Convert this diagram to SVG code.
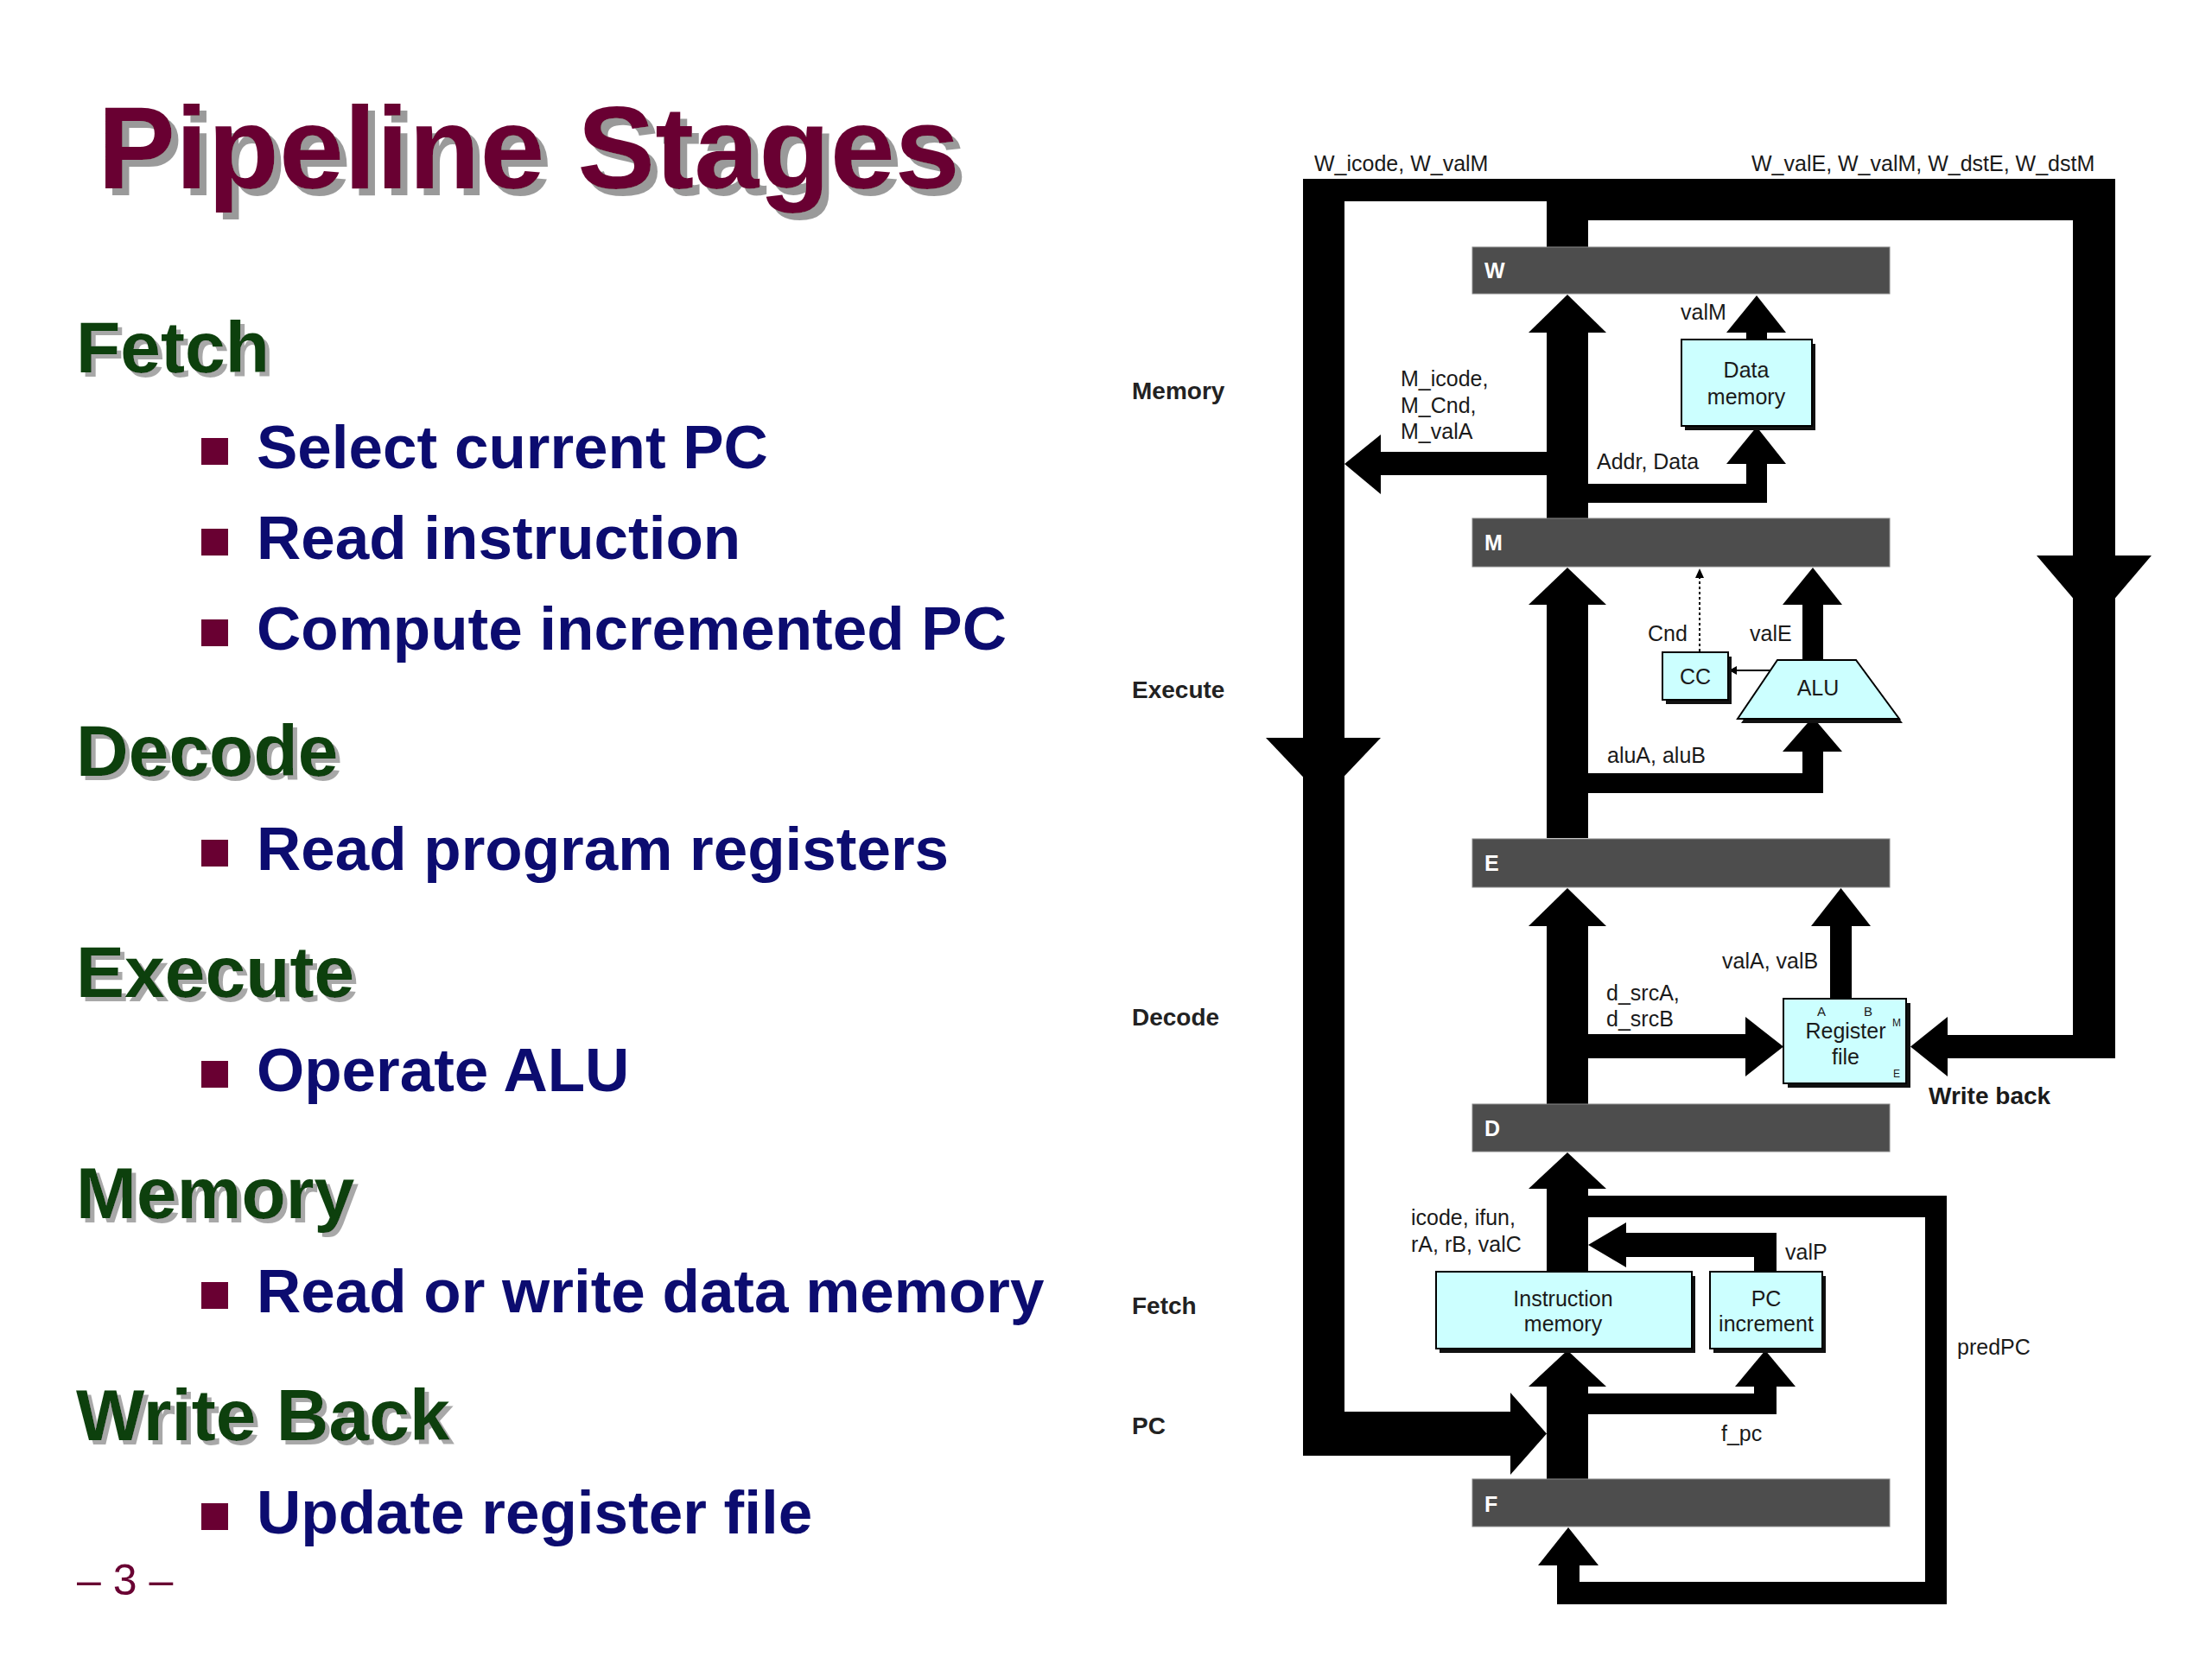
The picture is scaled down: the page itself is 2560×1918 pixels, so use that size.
<svg xmlns="http://www.w3.org/2000/svg" width="2560" height="1918" viewBox="0 0 2560 1918">
<defs>
  <filter id="shTitle" x="-5%" y="-20%" width="115%" height="150%">
    <feOffset in="SourceAlpha" dx="8" dy="8" result="o"/>
    <feFlood flood-color="#9a9a9a"/>
    <feComposite in2="o" operator="in" result="s"/>
    <feMerge><feMergeNode in="s"/><feMergeNode in="SourceGraphic"/></feMerge>
  </filter>
  <filter id="shHead" x="-5%" y="-20%" width="115%" height="150%">
    <feOffset in="SourceAlpha" dx="5" dy="5" result="o"/>
    <feFlood flood-color="#a8a8a8"/>
    <feComposite in2="o" operator="in" result="s"/>
    <feMerge><feMergeNode in="s"/><feMergeNode in="SourceGraphic"/></feMerge>
  </filter>
</defs>
<style>
.title{font-family:"Liberation Sans",Arial,sans-serif;font-weight:bold;font-size:135px;fill:#690032}
.h{font-family:"Liberation Sans",Arial,sans-serif;font-weight:bold;font-size:84px;fill:#0e3f0e}
.b{font-family:"Liberation Sans",Arial,sans-serif;font-weight:bold;font-size:71px;fill:#0c0c70}
.pg{font-family:"Liberation Sans",Arial,sans-serif;font-size:50px;fill:#690032}
.lbl{font-family:"Liberation Sans",Arial,sans-serif;font-size:25px;fill:#1a1a1a}
.mid{text-anchor:middle}
.tiny{font-family:"Liberation Sans",Arial,sans-serif;font-size:15px;fill:#1a1a1a}
.tiny2{font-family:"Liberation Sans",Arial,sans-serif;font-size:12px;fill:#1a1a1a}
.stage{font-family:"Liberation Sans",Arial,sans-serif;font-weight:bold;font-size:28px;fill:#222}
.wb{font-family:"Liberation Sans",Arial,sans-serif;font-weight:bold;font-size:28px;fill:#1a1a1a}
.reg{fill:#4d4d4d;stroke:#8a8a8a;stroke-width:1}
.regt{font-family:"Liberation Sans",Arial,sans-serif;font-weight:bold;font-size:25px;fill:#fff}
.box{fill:#ccffff;stroke:#000;stroke-width:2}
.shd{fill:#111}
.sq{fill:#690032}
</style>
<rect width="2560" height="1918" fill="#fff"/>

<g id="slide-text">
  <g id="title">
    <text class="title" x="113" y="218" filter="url(#shTitle)">Pipeline Stages</text>
  </g>
  <g id="fetch-section">
    <text class="h" x="88" y="431" filter="url(#shHead)">Fetch</text>
    <rect class="sq" x="233" y="507" width="31" height="31"/>
    <text class="b" x="297" y="542">Select current PC</text>
    <rect class="sq" x="233" y="612" width="31" height="31"/>
    <text class="b" x="297" y="647">Read instruction</text>
    <rect class="sq" x="233" y="717" width="31" height="31"/>
    <text class="b" x="297" y="752">Compute incremented PC</text>
  </g>
  <g id="decode-section">
    <text class="h" x="88" y="898" filter="url(#shHead)">Decode</text>
    <rect class="sq" x="233" y="972" width="31" height="31"/>
    <text class="b" x="297" y="1007">Read program registers</text>
  </g>
  <g id="execute-section">
    <text class="h" x="88" y="1154" filter="url(#shHead)">Execute</text>
    <rect class="sq" x="233" y="1228" width="31" height="31"/>
    <text class="b" x="297" y="1263">Operate ALU</text>
  </g>
  <g id="memory-section">
    <text class="h" x="88" y="1410" filter="url(#shHead)">Memory</text>
    <rect class="sq" x="233" y="1484" width="31" height="31"/>
    <text class="b" x="297" y="1519">Read or write data memory</text>
  </g>
  <g id="writeback-section">
    <text class="h" x="88" y="1667" filter="url(#shHead)">Write Back</text>
    <rect class="sq" x="233" y="1740" width="31" height="31"/>
    <text class="b" x="297" y="1775">Update register file</text>
  </g>
  <text id="page-number" class="pg" x="89" y="1846">– 3 –</text>
</g>

<g id="stage-labels">
  <text class="stage" x="1310" y="462">Memory</text>
  <text class="stage" x="1310" y="808">Execute</text>
  <text class="stage" x="1310" y="1187">Decode</text>
  <text class="stage" x="1310" y="1521">Fetch</text>
  <text class="stage" x="1310" y="1660">PC</text>
</g>

<g id="connectors" fill="#000">
  <!-- write-back feedback buses -->
  <rect x="1508" y="207" width="940" height="26"/>
  <rect x="1790" y="207" width="658" height="48"/>
  <rect x="1790" y="207" width="48" height="79"/>
  <rect x="1508" y="207" width="48" height="1478"/>
  <rect x="2399" y="207" width="49" height="1018"/>
  <rect x="2252" y="1198" width="196" height="27"/>
  <polygon points="2254,1177 2211,1211.5 2254,1246"/>
  <rect x="1508" y="1634" width="242" height="51"/>
  <polygon points="1748,1612 1790,1659.5 1748,1707"/>
  <polygon points="1465,854 1598,854 1531.5,924"/>
  <polygon points="2357,643 2490,643 2423.5,721"/>
  <!-- main pipeline stem -->
  <rect x="1790" y="1605" width="48" height="107"/>
  <polygon points="1769,1605 1814,1563 1859,1605"/>
  <rect x="1790" y="1376" width="48" height="96"/>
  <polygon points="1769,1376 1814,1334 1859,1376"/>
  <rect x="1790" y="1072" width="48" height="206"/>
  <polygon points="1769,1072 1814,1028 1859,1072"/>
  <rect x="1790" y="700" width="48" height="270"/>
  <polygon points="1769,700 1814,657 1859,700"/>
  <rect x="1790" y="385" width="48" height="215"/>
  <polygon points="1769,385 1814,341 1859,385"/>
  <!-- f_pc -->
  <rect x="1838" y="1613" width="218" height="24"/>
  <rect x="2030" y="1605" width="26" height="32"/>
  <polygon points="2008,1605 2043,1563 2078,1605"/>
  <!-- valP -->
  <rect x="2030" y="1427" width="26" height="45"/>
  <rect x="1880" y="1427" width="176" height="28"/>
  <polygon points="1882,1415 1838,1441 1882,1467"/>
  <!-- predPC -->
  <rect x="1838" y="1384" width="415" height="25"/>
  <rect x="2228" y="1384" width="25" height="473"/>
  <rect x="1802" y="1831" width="451" height="26"/>
  <rect x="1802" y="1810" width="26" height="47"/>
  <polygon points="1780,1812 1815,1768 1850,1812"/>
  <!-- d_srcA, d_srcB -->
  <rect x="1838" y="1197" width="184" height="28"/>
  <polygon points="2020,1177 2064,1211.5 2020,1246"/>
  <!-- valA, valB -->
  <rect x="2118" y="1070" width="25" height="88"/>
  <polygon points="2096,1072 2130.5,1028 2165,1072"/>
  <!-- aluA, aluB -->
  <rect x="1838" y="895" width="272" height="23"/>
  <rect x="2086" y="868" width="24" height="50"/>
  <polygon points="2063,870 2098,830 2132,870"/>
  <!-- valE -->
  <rect x="2086" y="698" width="24" height="68"/>
  <polygon points="2063,700 2098,657 2132,700"/>
  <!-- CC link and Cnd -->
  <line x1="2050" y1="776" x2="2006" y2="776" stroke="#000" stroke-width="2"/>
  <polygon points="2001,776 2010,771 2010,781"/>
  <line x1="1967" y1="754" x2="1967" y2="668" stroke="#000" stroke-width="2" stroke-dasharray="3,3"/>
  <polygon points="1967,658 1962,669 1972,669"/>
  <!-- valM -->
  <rect x="2021" y="383" width="24" height="11"/>
  <polygon points="1998,385 2033,342 2067,385"/>
  <!-- Addr, Data -->
  <rect x="1838" y="560" width="207" height="22"/>
  <rect x="2021" y="535" width="24" height="47"/>
  <polygon points="1998,537 2033,494 2067,537"/>
  <!-- M_icode, M_Cnd, M_valA -->
  <rect x="1596" y="523" width="194" height="27"/>
  <polygon points="1598,503 1556,537 1598,572"/>
</g>

<g id="reg-W"><rect class="reg" x="1704" y="286" width="483" height="54"/><text class="regt" x="1718" y="322">W</text></g>
<g id="reg-M"><rect class="reg" x="1704" y="600" width="483" height="56"/><text class="regt" x="1718" y="637">M</text></g>
<g id="reg-E"><rect class="reg" x="1704" y="971" width="483" height="56"/><text class="regt" x="1718" y="1008">E</text></g>
<g id="reg-D"><rect class="reg" x="1704" y="1278" width="483" height="55"/><text class="regt" x="1718" y="1315">D</text></g>
<g id="reg-F"><rect class="reg" x="1704" y="1712" width="483" height="55"/><text class="regt" x="1718" y="1750">F</text></g>

<g id="data-memory">
  <rect class="shd" x="1950" y="398" width="151" height="100"/>
  <rect class="box" x="1946" y="393" width="151" height="100"/>
  <text class="lbl mid" x="2021" y="437">Data</text>
  <text class="lbl mid" x="2021" y="468">memory</text>
</g>
<g id="cc">
  <rect class="shd" x="1928" y="760" width="76" height="55"/>
  <rect class="box" x="1924" y="755" width="76" height="55"/>
  <text class="lbl mid" x="1962" y="792">CC</text>
</g>
<g id="alu">
  <polygon class="shd" points="2061,769 2152,769 2202,837 2015,837"/>
  <polygon class="box" points="2057,764 2148,764 2198,832 2011,832"/>
  <text class="lbl mid" x="2104" y="805">ALU</text>
</g>
<g id="register-file">
  <rect class="shd" x="2069" y="1161" width="142" height="98"/>
  <rect class="box" x="2064" y="1156" width="142" height="98"/>
  <text class="tiny" x="2103" y="1176">A</text>
  <text class="tiny" x="2157" y="1176">B</text>
  <text class="tiny2" x="2190" y="1188">M</text>
  <text class="tiny2" x="2191" y="1247">E</text>
  <text class="lbl mid" x="2136" y="1202">Register</text>
  <text class="lbl mid" x="2136" y="1232">file</text>
</g>
<g id="instruction-memory">
  <rect class="shd" x="1666" y="1477" width="296" height="89"/>
  <rect class="box" x="1662" y="1472" width="296" height="89"/>
  <text class="lbl mid" x="1809" y="1512">Instruction</text>
  <text class="lbl mid" x="1809" y="1541">memory</text>
</g>
<g id="pc-increment">
  <rect class="shd" x="1983" y="1477" width="130" height="89"/>
  <rect class="box" x="1979" y="1472" width="130" height="89"/>
  <text class="lbl mid" x="2044" y="1512">PC</text>
  <text class="lbl mid" x="2044" y="1541">increment</text>
</g>

<g id="connector-labels">
  <text class="lbl" x="1521" y="198">W_icode, W_valM</text>
  <text class="lbl" x="2027" y="198">W_valE, W_valM, W_dstE, W_dstM</text>
  <text class="lbl" x="1945" y="370">valM</text>
  <text class="lbl" x="1621" y="447">M_icode,</text>
  <text class="lbl" x="1621" y="478">M_Cnd,</text>
  <text class="lbl" x="1621" y="508">M_valA</text>
  <text class="lbl" x="1848" y="543">Addr, Data</text>
  <text class="lbl" x="1907" y="742">Cnd</text>
  <text class="lbl" x="2025" y="742">valE</text>
  <text class="lbl" x="1860" y="883">aluA, aluB</text>
  <text class="lbl" x="1993" y="1121">valA, valB</text>
  <text class="lbl" x="1859" y="1158">d_srcA,</text>
  <text class="lbl" x="1859" y="1188">d_srcB</text>
  <text class="wb" x="2232" y="1278">Write back</text>
  <text class="lbl" x="1633" y="1418">icode, ifun,</text>
  <text class="lbl" x="1633" y="1449">rA, rB, valC</text>
  <text class="lbl" x="2066" y="1458">valP</text>
  <text class="lbl" x="1992" y="1668">f_pc</text>
  <text class="lbl" x="2265" y="1568">predPC</text>
</g>
</svg>
